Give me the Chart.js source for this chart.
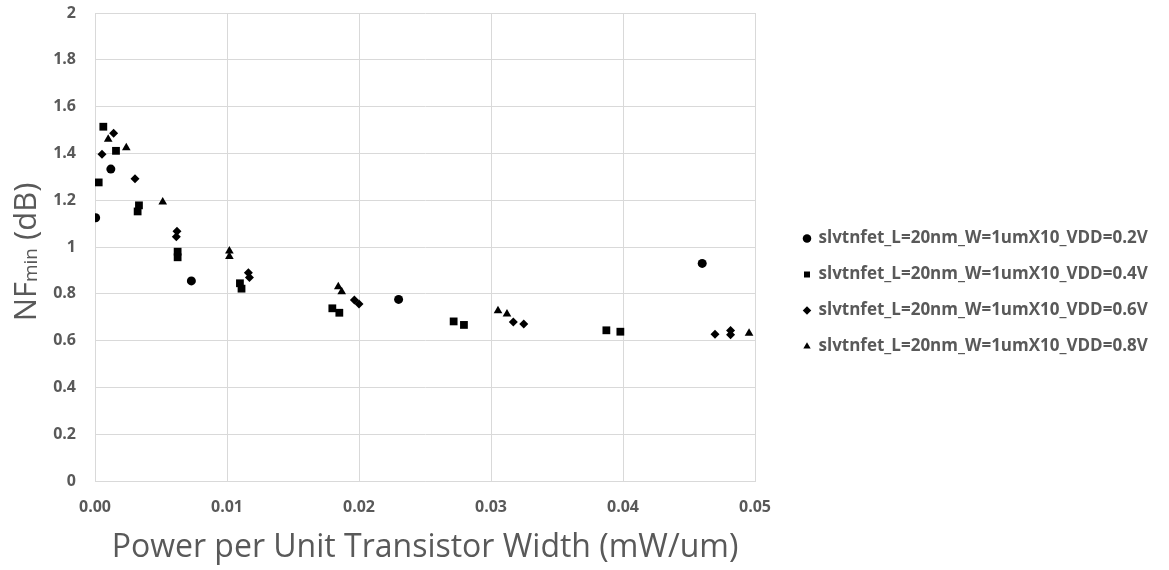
<!DOCTYPE html>
<html>
<head>
<meta charset="utf-8">
<script src="https://cdn.jsdelivr.net/npm/chart.js@4"></script>
<style>
  html, body { margin: 0; padding: 0; background: #fff; }
  #wrap { width: 1169px; height: 570px; }
</style>
</head>
<body>
<div id="wrap"><canvas id="nfChart" width="1169" height="570"></canvas></div>
<script>
// data
const seriesNames = [
    'slvtnfet_L=20nm_W=1umX10_VDD=0.2V',
    'slvtnfet_L=20nm_W=1umX10_VDD=0.4V',
    'slvtnfet_L=20nm_W=1umX10_VDD=0.6V',
    'slvtnfet_L=20nm_W=1umX10_VDD=0.8V'
];

const vdd02Power = [0.00005, 0.0012, 0.0073, 0.0230, 0.0460];
const vdd02Nf    = [1.125, 1.333, 0.855, 0.776, 0.930];

const vdd04Power = [0.00028, 0.00063, 0.00159, 0.00323, 0.00333, 0.00626, 0.00626, 0.01098, 0.0111, 0.01798, 0.01851, 0.02717, 0.02795, 0.03874, 0.0398];
const vdd04Nf    = [1.276, 1.514, 1.411, 1.152, 1.178, 0.980, 0.956, 0.845, 0.822, 0.738, 0.719, 0.682, 0.667, 0.644, 0.638];

const vdd06Power = [0.00053, 0.00141, 0.00303, 0.00616, 0.00621, 0.01162, 0.0117, 0.01965, 0.0200, 0.03169, 0.03248, 0.04697, 0.04815, 0.04815];
const vdd06Nf    = [1.396, 1.486, 1.292, 1.044, 1.067, 0.890, 0.870, 0.774, 0.756, 0.679, 0.671, 0.627, 0.625, 0.643];

const vdd08Power = [0.0010, 0.00237, 0.00513, 0.01018, 0.01018, 0.01843, 0.01869, 0.03053, 0.03121, 0.04955];
const vdd08Nf    = [1.461, 1.424, 1.192, 0.983, 0.959, 0.830, 0.809, 0.728, 0.714, 0.631];

const xTicks = [0, 0.01, 0.02, 0.03, 0.04, 0.05];
const yTicks = [0, 0.2, 0.4, 0.6, 0.8, 1, 1.2, 1.4, 1.6, 1.8, 2];

// x/y arrays samenvoegen tot punten
function toPoints(xs, ys) {
    return xs.map((x, i) => ({ x: x, y: ys[i] }));
}

const textGrey = '#595959';
const gridGrey = '#d9d9d9';
const fontFam = "'Open Sans', 'Liberation Sans', sans-serif";
const legendPad = 19;

// y-as titel met subscript "min"
const yTitlePlugin = {
    id: 'yTitle',
    afterDraw(chart) {
        const ctx = chart.ctx;
        const big = '31px ' + fontFam;
        const small = '19px ' + fontFam;
        ctx.save();
        ctx.font = big;
        const wNF = ctx.measureText('NF').width;
        const wDb = ctx.measureText(' (dB)').width;
        ctx.font = small;
        const wMin = ctx.measureText('min').width;
        const total = wNF + wMin + wDb;
        ctx.translate(27, 252);
        ctx.rotate(-Math.PI / 2);
        ctx.fillStyle = textGrey;
        ctx.textBaseline = 'middle';
        ctx.textAlign = 'left';
        let x = -total / 2;
        ctx.font = big;
        ctx.fillText('NF', x, 0);
        x += wNF;
        ctx.font = small;
        ctx.fillText('min', x, 5);
        x += wMin;
        ctx.font = big;
        ctx.fillText(' (dB)', x, 0);
        ctx.restore();
    }
};

// legenda naar dezelfde plek schuiven als in het origineel
const legendPlacePlugin = {
    id: 'legendPlace',
    afterLayout(chart) {
        const lg = chart.legend;
        if (!lg) return;
        lg.left = 804 - legendPad;
        lg.right = chart.width;
        lg.width = lg.right - lg.left;
        lg.top = 211;
        lg.bottom = 481;
        lg.height = lg.bottom - lg.top;
    }
};

const styles = ['circle', 'rect', 'rectRot', 'triangle'];
const radii = [4.5, 5.5, 4.5, 5];
const xs = [vdd02Power, vdd04Power, vdd06Power, vdd08Power];
const ys = [vdd02Nf, vdd04Nf, vdd06Nf, vdd08Nf];

const datasets = seriesNames.map((name, i) => ({
    label: name,
    data: toPoints(xs[i], ys[i]),
    pointStyle: styles[i],
    pointRadius: radii[i],
    pointHoverRadius: radii[i],
    backgroundColor: '#000',
    borderColor: '#000',
    borderWidth: 0,
    showLine: false
}));

const ctx = document.getElementById('nfChart').getContext('2d');
new Chart(ctx, {
    type: 'scatter',
    data: { datasets: datasets },
    options: {
        responsive: false,
        animation: false,
        devicePixelRatio: 1,
        layout: { padding: 0 },
        scales: {
            x: {
                type: 'linear',
                min: 0,
                max: 0.05,
                afterBuildTicks: axis => { axis.ticks = xTicks.map(v => ({ value: v })); },
                afterFit: scale => { scale.height = 89; scale.paddingRight = 414; },
                ticks: {
                    callback: v => Number(v).toFixed(2),
                    color: textGrey,
                    font: { family: fontFam, size: 16, weight: 'bold' },
                    padding: 17,
                    maxRotation: 0
                },
                grid: { color: gridGrey, drawTicks: false, lineWidth: 1 },
                border: { color: gridGrey },
                title: {
                    display: true,
                    text: 'Power per Unit Transistor Width (mW/um)',
                    color: textGrey,
                    font: { family: fontFam, size: 32 },
                    padding: { top: 8, bottom: 3 }
                }
            },
            y: {
                min: 0,
                max: 2,
                afterBuildTicks: axis => { axis.ticks = yTicks.map(v => ({ value: v })); },
                afterFit: scale => { scale.width = 95; scale.paddingTop = 13; },
                ticks: {
                    callback: v => String(Math.round(v * 10) / 10),
                    color: textGrey,
                    font: { family: fontFam, size: 16, weight: 'bold' },
                    padding: 19
                },
                grid: { color: gridGrey, drawTicks: false, lineWidth: 1 },
                border: { color: gridGrey }
            }
        },
        plugins: {
            legend: {
                position: 'right',
                align: 'start',
                maxWidth: 400,
                labels: {
                    usePointStyle: true,
                    boxWidth: 6,
                    boxHeight: 6,
                    padding: legendPad,
                    color: textGrey,
                    font: { family: fontFam, size: 17, weight: 'bold' }
                }
            },
            tooltip: { enabled: false }
        }
    },
    plugins: [yTitlePlugin, legendPlacePlugin]
});
</script>
</body>
</html>
